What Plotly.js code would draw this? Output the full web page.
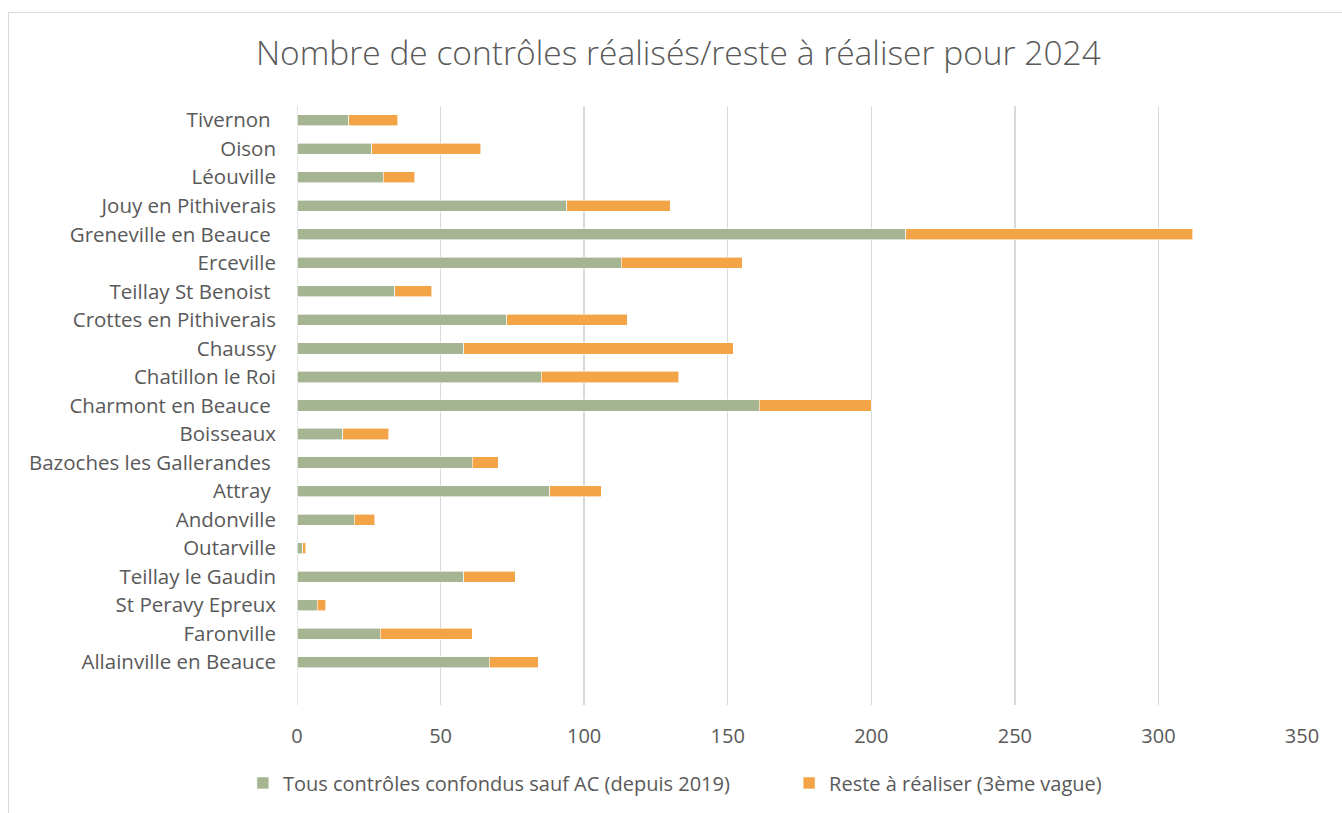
<!DOCTYPE html>
<html>
<head>
<meta charset="utf-8">
<script src="https://cdn.plot.ly/plotly-3.0.1.min.js"></script>
<style>
  html, body { margin: 0; padding: 0; background: #fff; }
  #frame { position: absolute; left: 8px; top: 12px; width: 1340px; height: 810px; border: 1px solid #d9d9d9; box-sizing: border-box; }
  #chart { position: absolute; left: 0; top: 0; width: 1342px; height: 813px; }
</style>
</head>
<body>
<div id="frame"></div>
<div id="chart"></div>
<script>
// Categories listed from top to bottom as in the picture
const communes = [
  "Tivernon\u00a0", "Oison", "Léouville", "Jouy en Pithiverais", "Greneville en Beauce\u00a0",
  "Erceville", "Teillay St Benoist\u00a0", "Crottes en Pithiverais", "Chaussy", "Chatillon le Roi",
  "Charmont en Beauce\u00a0", "Boisseaux", "Bazoches les Gallerandes\u00a0", "Attray\u00a0", "Andonville",
  "Outarville", "Teillay le Gaudin", "St Peravy Epreux", "Faronville", "Allainville en Beauce"
];
const realises = [18, 26, 30, 94, 212, 113, 34, 73, 58, 85, 161, 16, 61, 88, 20, 2, 58, 7, 29, 67];
const resteARealiser = [17, 38, 11, 36, 100, 42, 13, 42, 94, 48, 39, 16, 9, 18, 7, 1, 18, 3, 32, 17];
const xTicks = [0, 50, 100, 150, 200, 250, 300, 350];

const seriesNames = ["Tous contrôles confondus sauf AC (depuis 2019)", "Reste à réaliser (3ème vague)"];

const font = "'Open Sans', 'Lato', sans-serif";
const grey = "#595959";

const traces = [
  {
    type: "bar", orientation: "h", name: seriesNames[0], legend: "legend",
    y: communes, x: realises,
    marker: { color: "#A5B592", line: { color: "#ffffff", width: 0.6 } },
    hoverinfo: "x+y"
  },
  {
    type: "bar", orientation: "h", name: seriesNames[1], legend: "legend2",
    y: communes, x: resteARealiser,
    marker: { color: "#F3A447", line: { color: "#ffffff", width: 0.6 } },
    hoverinfo: "x+y"
  }
];

const catOrder = communes.slice().reverse();

const legendBase = {
  orientation: "h", xref: "container", yref: "container",
  xanchor: "left", yanchor: "middle", y: 0.037,
  font: { family: font, size: 20, color: grey },
  itemwidth: 30, bgcolor: "rgba(0,0,0,0)", borderwidth: 0
};

const layout = {
  width: 1342, height: 813,
  paper_bgcolor: "rgba(0,0,0,0)", plot_bgcolor: "rgba(0,0,0,0)",
  barmode: "stack", bargap: 0.61,
  margin: { l: 297, r: 40, t: 106, b: 108 },
  font: { family: font, color: grey, size: 20 },
  title: {
    text: "Nombre de contrôles réalisés/reste à réaliser pour 2024",
    font: { family: font, size: 33.5, color: grey, weight: 300 },
    x: 0.5055, xanchor: "center", y: 0.935, yanchor: "middle"
  },
  xaxis: {
    range: [0, 350], tickvals: xTicks, ticktext: xTicks.map(String),
    showgrid: true, gridcolor: "#d9d9d9", gridwidth: 1.5,
    zeroline: false, showline: false, ticks: "",
    ticklabelstandoff: 17,
    tickfont: { family: font, size: 20, color: grey }
  },
  yaxis: {
    type: "category", categoryorder: "array", categoryarray: catOrder,
    range: [-1.5, 19.5],
    showgrid: false, zeroline: false, showline: false, ticks: "",
    ticklabelstandoff: 20,
    tickfont: { family: font, size: 20.5, color: grey }
  },
  shapes: [{
    type: "line", xref: "x", yref: "paper", x0: 0, x1: 0, y0: 0, y1: 1,
    line: { color: "#d9d9d9", width: 1.5 }, layer: "below"
  }],
  legend: Object.assign({}, legendBase, { x: 0.181 }),
  legend2: Object.assign({}, legendBase, { x: 0.588 }),
  showlegend: true
};

Plotly.newPlot("chart", traces, layout, { displayModeBar: false, staticPlot: true });
</script>
</body>
</html>
